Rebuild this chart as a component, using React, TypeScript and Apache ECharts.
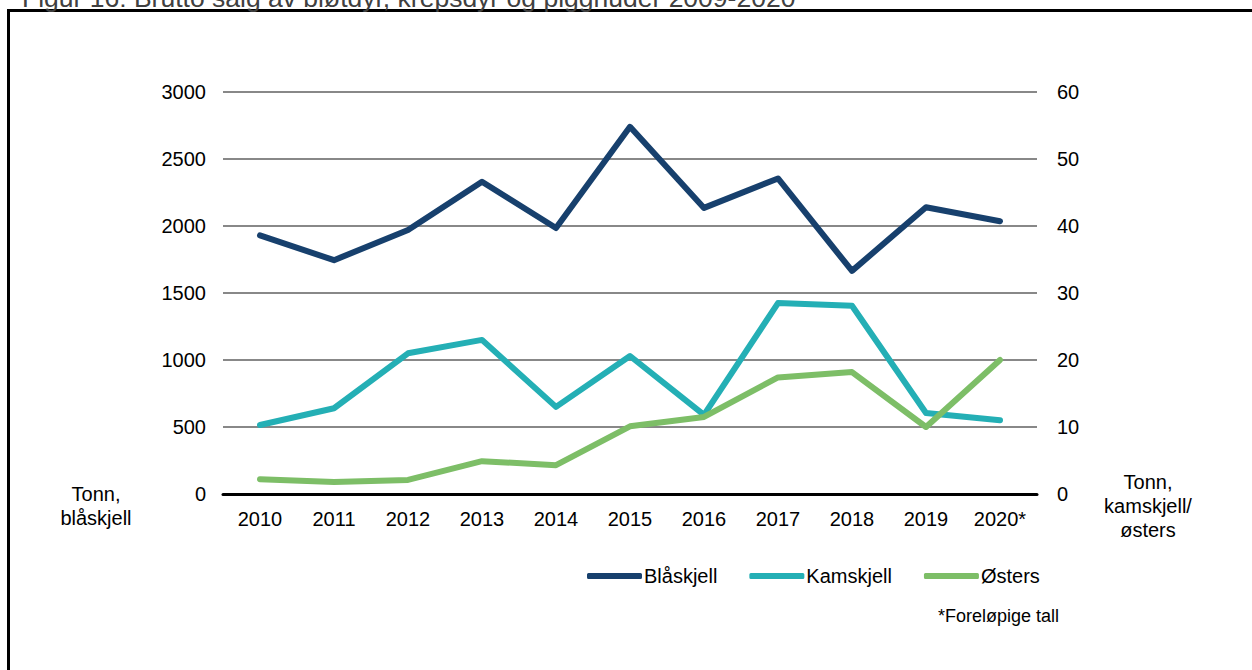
import React, { useEffect, useRef } from "react";
import * as echarts from "echarts";

const years = ["2010", "2011", "2012", "2013", "2014", "2015", "2016", "2017", "2018", "2019", "2020*"];
const blaskjell = [1930, 1745, 1970, 2330, 1985, 2740, 2135, 2355, 1665, 2140, 2035];
const kamskjell = [10.3, 12.8, 21.0, 23.0, 13.0, 20.6, 11.8, 28.5, 28.1, 12.1, 11.0];
const osters = [2.2, 1.8, 2.1, 4.9, 4.3, 10.1, 11.5, 17.4, 18.2, 10.0, 20.0];

const seriesNames = ["Blåskjell", "Kamskjell", "Østers"];
const colors = ["#17406D", "#24AFB5", "#7DBE67"];
const titleText = "Figur 16: Brutto salg av bløtdyr, krepsdyr og pigghuder 2009-2020";
const leftName = "Tonn,\nblåskjell";
const rightName = "Tonn,\nkamskjell/\nøsters";
const footnote = "*Foreløpige tall";

const FONT = "'Liberation Sans', Arial, sans-serif";

export default function App() {
  const ref = useRef<HTMLDivElement>(null);
  useEffect(() => {
    document.body.style.margin = "0";
    const chart = echarts.init(ref.current!, null, { renderer: "svg" });
    chart.setOption({
      animation: false,
      backgroundColor: "#ffffff",
      textStyle: { fontFamily: FONT },
      grid: { left: 223, right: 215, top: 92, bottom: 176 },
      legend: {
        data: seriesNames.map((n) => ({ name: n, icon: "roundRect" })),
        left: 582,
        top: 561,
        itemWidth: 55,
        itemHeight: 6,
        itemGap: 32,
        textStyle: { fontSize: 20, color: "#000", fontFamily: FONT, padding: [0, 0, 0, -3] },
      },
      xAxis: {
        type: "category",
        data: years,
        boundaryGap: true,
        axisLine: { lineStyle: { color: "#000", width: 3 } },
        axisTick: { show: false },
        axisLabel: { fontSize: 20, color: "#000", margin: 15, fontFamily: FONT },
      },
      yAxis: [
        {
          type: "value",
          min: 0,
          max: 3000,
          interval: 500,
          axisLine: { show: false },
          axisTick: { show: false },
          axisLabel: {
            fontSize: 20,
            color: "#000",
            margin: 17,
            fontFamily: FONT,
            formatter: (v: number) => String(v),
          },
          splitLine: { lineStyle: { color: "#888888", width: 2 } },
        },
        {
          type: "value",
          min: 0,
          max: 60,
          interval: 10,
          axisLine: { show: false },
          axisTick: { show: false },
          axisLabel: { fontSize: 20, color: "#000", margin: 20, fontFamily: FONT },
          splitLine: { show: false },
        },
      ],
      series: [
        {
          name: seriesNames[0],
          type: "line",
          yAxisIndex: 0,
          data: blaskjell,
          symbol: "none",
          lineStyle: { width: 6, color: colors[0], cap: "round", join: "round" },
          itemStyle: { color: colors[0] },
          z: 3,
        },
        {
          name: seriesNames[1],
          type: "line",
          yAxisIndex: 1,
          data: kamskjell,
          symbol: "none",
          lineStyle: { width: 6, color: colors[1], cap: "round", join: "round" },
          itemStyle: { color: colors[1] },
          z: 2,
        },
        {
          name: seriesNames[2],
          type: "line",
          yAxisIndex: 1,
          data: osters,
          symbol: "none",
          lineStyle: { width: 6, color: colors[2], cap: "round", join: "round" },
          itemStyle: { color: colors[2] },
          z: 2,
        },
      ],
      graphic: [
        {
          type: "rect",
          shape: { x: 8.5, y: 10.5, width: 1300, height: 720 },
          style: { fill: "none", stroke: "#000", lineWidth: 3 },
          silent: true,
        },
        {
          type: "text",
          left: 22,
          top: -16,
          style: { text: titleText, fontSize: 26.5, fill: "#404040", fontFamily: FONT },
        },
        {
          type: "text",
          x: 96,
          y: 482,
          style: { text: leftName, fontSize: 20, fill: "#000", fontFamily: FONT, align: "center", lineHeight: 24 },
        },
        {
          type: "text",
          x: 1148,
          y: 470,
          style: { text: rightName, fontSize: 20, fill: "#000", fontFamily: FONT, align: "center", lineHeight: 24 },
        },
        {
          type: "text",
          x: 1059,
          y: 607,
          style: { text: footnote, fontSize: 18, fill: "#000", fontFamily: FONT, align: "right" },
        },
      ],
    });
    return () => chart.dispose();
  }, []);
  return <div ref={ref} style={{ width: 1252, height: 670 }} />;
}
